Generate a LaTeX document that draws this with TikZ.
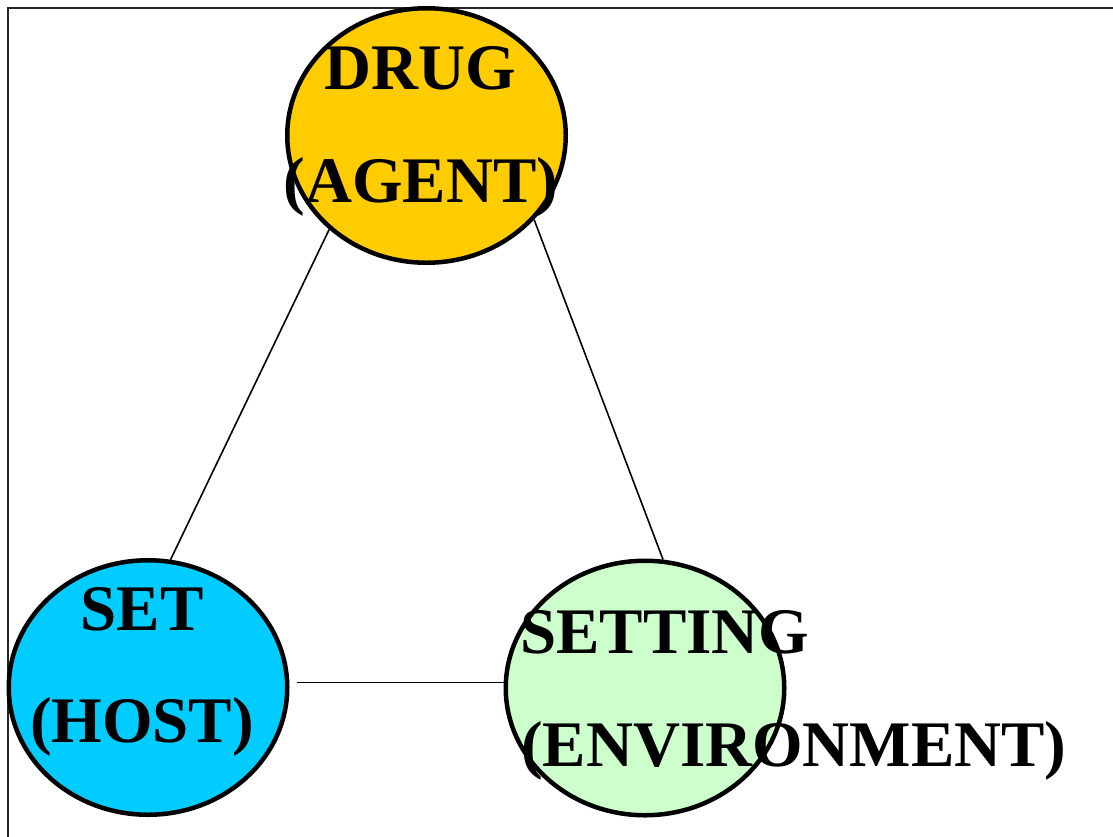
\documentclass[tikz,border=0pt]{standalone}
\usepackage{fontspec}
\setmainfont{Liberation Serif}
\usetikzlibrary{shapes.geometric,calc}
\definecolor{drugfill}{HTML}{FFCC00}
\definecolor{setfill}{HTML}{00CCFF}
\definecolor{settingfill}{HTML}{CCFFCC}
\tikzset{
  blob/.style={ellipse, draw=black, line width=4.5pt, minimum width=278.5pt, minimum height=254.5pt, inner sep=0pt},
  lbl/.style={inner sep=0pt, font=\fontsize{65}{113}\selectfont\bfseries},
  conn/.style={draw=black, line width=1.6pt},
  frame/.style={draw=black!85, line width=2pt}
}
\begin{document}
\begin{tikzpicture}[x=1pt,y=-1pt]
\useasboundingbox (0,0) rectangle (1113,836);
\fill[white] (0,0) rectangle (1113,836);
\draw[frame] (7.5,840) -- (7.5,7.5) -- (1120,7.5);

\node[blob, fill=drugfill] (drug) at (426.5,135.5) {};
\node[blob, fill=setfill] (set) at (148,687.5) {};
\node[blob, fill=settingfill] (setting) at (645,688) {};

\draw[conn] (drug.-136.5) -- (set.80.2);
\draw[conn] (drug.-38.7) -- (setting.82);
\draw[conn] ($(set.2.8)+(8,0)$) -- (set.2.8 -| setting.west);

% labels
\node[lbl, anchor=base] (drugA) at (420,89) {DRUG};
\node[lbl, anchor=base] (drugB) at (421,202) {(AGENT)};
\node[lbl, anchor=base] (setA) at (142,630) {SET};
\node[lbl, anchor=base] (setB) at (142,742) {(HOST)};
\node[lbl, anchor=base west] (settingA) at (520,653) {SETTING};
\node[lbl, anchor=base west] (settingB) at (521,766) {(ENVIRONMENT)};
\end{tikzpicture}
\end{document}
